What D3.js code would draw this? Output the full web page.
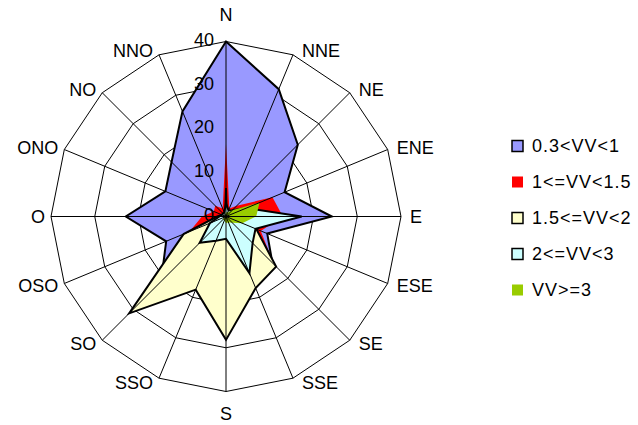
<!DOCTYPE html>
<html>
<head>
<meta charset="utf-8">
<script src="https://cdn.jsdelivr.net/npm/d3@7"></script>
<style>
  html, body { margin: 0; padding: 0; background: #fff; }
  svg text { font-family: "Liberation Sans", Arial, sans-serif; fill: #000; }
</style>
</head>
<body>
<svg id="chart" width="638" height="425"></svg>
<script>
// Wind directions, clockwise from north
const directions = ["N","NNE","NE","ENE","E","ESE","SE","SSE","S","SSO","SO","OSO","O","ONO","NO","NNO"];

// Frequencies per speed class
const vv03to1  = [40, 31.5, 23.2, 14.5, 24.2, 10.2, 15, 10, 10, 12, 21, 14.8, 22.9, 15, 17.6, 26];
const vv1to15  = [16.6, 2, 3.5, 11.5, 13, 8.6, 15.5, 8, 6, 6, 8, 9, 5.5, 3, 3.5, 2];
const vv15to2  = [6.5, 0.5, 0.5, 1, 2, 7.5, 16.2, 17.7, 28.2, 18.1, 31.3, 10.5, 2, 1, 0.5, 0.5];
const vv2to3   = [3, 1.5, 2, 5, 17.3, 7.3, 8.6, 14, 5.1, 6, 8.5, 4, 1.5, 1, 1, 1];
const vvOver3  = [1, 1, 2, 8.3, 6.9, 4, 2, 1.5, 1.5, 1, 1, 0.5, 0.5, 0.5, 0.5, 0.5];

const seriesNames  = ["0.3<VV<1", "1<=VV<1.5", "1.5<=VV<2", "2<=VV<3", "VV>=3"];
const seriesValues = [vv03to1, vv1to15, vv15to2, vv2to3, vvOver3];
const seriesFill   = ["#9999FF", "#FF0000", "#FFFFCC", "#CCFFFF", "#99CC00"];
const seriesStroke = ["#000", "none", "#000", "#000", "none"];

const ticks = [0, 10, 20, 30, 40];

const svg = d3.select("#chart");
svg.append("rect").attr("width", 638).attr("height", 425).attr("fill", "#fff");

const cx = 226, cy = 216.5, R = 175;
const r = d3.scaleLinear().domain([0, 40]).range([0, R]);
const angle = d3.scalePoint().domain(directions).range([0, 2 * Math.PI * 15 / 16]);

const g = svg.append("g").attr("transform", `translate(${cx},${cy})`);

const radial = d3.lineRadial()
  .angle(d => angle(d.dir))
  .radius(d => r(d.v))
  .curve(d3.curveLinearClosed);

// Concentric grid rings (behind the filled areas)
g.append("g").selectAll("path")
  .data(ticks.slice(1))
  .join("path")
  .attr("d", t => radial(directions.map(dir => ({dir, v: t}))))
  .attr("fill", "none")
  .attr("stroke", "#000")
  .attr("stroke-width", 1);

// Filled series areas
g.append("g").selectAll("path")
  .data(seriesValues)
  .join("path")
  .attr("d", vals => radial(vals.map((v, i) => ({dir: directions[i], v}))))
  .attr("fill", (d, i) => seriesFill[i])
  .attr("stroke", (d, i) => seriesStroke[i])
  .attr("stroke-width", 2)
  .attr("stroke-linejoin", "miter");

// Spokes drawn over the fills
g.append("g").selectAll("line")
  .data(directions)
  .join("line")
  .attr("x1", 0).attr("y1", 0)
  .attr("x2", d => r(40) * Math.sin(angle(d)))
  .attr("y2", d => -r(40) * Math.cos(angle(d)))
  .attr("stroke", "#000")
  .attr("stroke-width", 1);

// Radial axis tick labels along the north spoke
g.append("g").selectAll("text")
  .data(ticks)
  .join("text")
  .attr("x", -12)
  .attr("y", t => -r(t) - 2 + 6.3)
  .attr("text-anchor", "end")
  .attr("font-size", 18)
  .text(t => t);

// Direction labels
g.append("g").selectAll("text")
  .data(directions)
  .join("text")
  .each(function(d) {
    const a = angle(d), s = Math.sin(a), c = Math.cos(a);
    const vx = R * s, vy = -R * c;
    let x, y, anchor;
    if (Math.abs(s) < 0.01) {
      anchor = "middle"; x = vx;
      y = vy - c * 24.5 - 2.5;
    } else {
      anchor = s > 0 ? "start" : "end";
      x = vx + (s > 0 ? 9 : -6);
      y = vy - c * 5;
    }
    d3.select(this)
      .attr("x", x)
      .attr("y", y + 6.3)
      .attr("text-anchor", anchor)
      .attr("font-size", 18)
      .text(d);
  });

// Legend
const legend = svg.append("g").attr("transform", "translate(512,146)");
const rowH = 36;
const item = legend.selectAll("g")
  .data(seriesNames)
  .join("g")
  .attr("transform", (d, i) => `translate(0,${i * rowH})`);
item.append("rect")
  .attr("x", 0).attr("y", -5.5)
  .attr("width", 11).attr("height", 11)
  .attr("fill", (d, i) => seriesFill[i])
  .attr("stroke", (d, i) => seriesStroke[i])
  .attr("stroke-width", 1.5);
item.append("text")
  .attr("x", 20)
  .attr("y", 6.3)
  .attr("font-size", 18)
  .attr("letter-spacing", 1)
  .text(d => d);
</script>
</body>
</html>
